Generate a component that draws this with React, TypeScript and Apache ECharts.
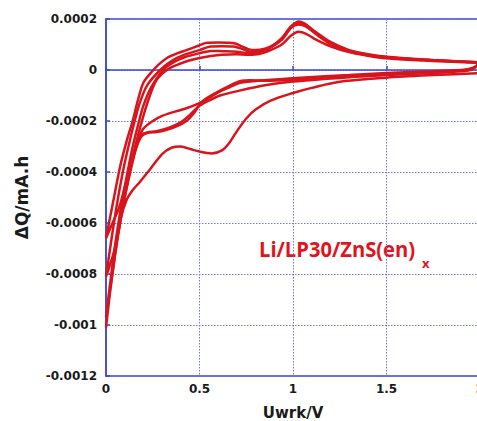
import React, { useEffect, useRef } from "react";
import * as echarts from "echarts";

// Voltage (V) / differential capacity (mA.h) pairs
const cycle1Cathodic: [number, number][] = [
  [2.0, -0.000012], [1.75, -0.00002], [1.5, -0.00003], [1.25, -0.000046], [1.1, -0.00007],
  [1.0, -0.00009], [0.88, -0.00012], [0.8, -0.000155], [0.75, -0.00019], [0.7, -0.00024],
  [0.66, -0.000285], [0.62, -0.000315], [0.565, -0.000327], [0.5, -0.00032], [0.45, -0.00031],
  [0.4, -0.0003], [0.35, -0.000305], [0.3, -0.00033], [0.235, -0.00039], [0.18, -0.00044],
  [0.144, -0.00047], [0.11, -0.00051], [0.08, -0.00058], [0.05, -0.0007], [0.025, -0.00085],
  [0.0, -0.00101],
];
const cycle1Anodic: [number, number][] = [
  [0.0, -0.00101], [0.02, -0.00088], [0.05, -0.00072], [0.08, -0.00058], [0.11, -0.00046],
  [0.14, -0.00035], [0.17, -0.00026], [0.2, -0.00018], [0.23, -0.00011], [0.27, -0.00004],
  [0.325, 0.0], [0.38, 0.00002], [0.44, 0.000036], [0.5, 0.000047], [0.56, 0.000055],
  [0.62, 0.00006], [0.7, 0.000062], [0.76, 0.00006], [0.82, 0.000063], [0.88, 0.000078],
  [0.94, 0.0001], [0.99, 0.000135], [1.03, 0.00015], [1.07, 0.000142], [1.12, 0.00012],
  [1.2, 0.000093], [1.3, 0.00007], [1.4, 0.000056], [1.5, 0.000046], [1.7, 0.000037],
  [1.85, 0.000032], [2.0, 0.000028],
];
const cycle2Cathodic: [number, number][] = [
  [2.0, 0.000027], [1.96, 0.000008], [1.9, 0.0], [1.7, -0.000006], [1.5, -0.000012],
  [1.3, -0.00002], [1.0, -0.000032], [0.85, -0.00004], [0.77, -0.000045], [0.717, -0.00005],
  [0.66, -0.000068], [0.6, -0.000088], [0.55, -0.00011], [0.5, -0.00013], [0.43, -0.00015],
  [0.35, -0.000167], [0.3, -0.00018], [0.25, -0.0002], [0.2, -0.00023], [0.18, -0.00026],
  [0.15, -0.00033], [0.12, -0.00042], [0.09, -0.00053], [0.06, -0.00066], [0.03, -0.00082],
  [0.0, -0.00097],
];
const cycle2Anodic: [number, number][] = [
  [0.0, -0.00097], [0.02, -0.00085], [0.05, -0.00068], [0.08, -0.00054], [0.11, -0.00042],
  [0.14, -0.00031], [0.17, -0.00022], [0.2, -0.00014], [0.24, -0.00007], [0.305, 0.0],
  [0.36, 0.00003], [0.42, 0.00005], [0.5, 0.000066], [0.56, 0.000075], [0.62, 0.000074],
  [0.7, 0.000072], [0.76, 0.000066], [0.82, 0.00007], [0.88, 0.000088], [0.94, 0.000118],
  [0.99, 0.000165], [1.03, 0.000178], [1.07, 0.00017], [1.12, 0.000142], [1.2, 0.000103],
  [1.3, 0.000075], [1.4, 0.00006], [1.5, 0.00005], [1.7, 0.00004], [1.85, 0.000034],
  [2.0, 0.00003],
];
const cycle3Cathodic: [number, number][] = [
  [2.0, 0.000027], [1.96, 0.000005], [1.9, -0.000003], [1.7, -0.00001], [1.5, -0.000016],
  [1.3, -0.000024], [1.0, -0.000038], [0.85, -0.000042], [0.77, -0.00004], [0.72, -0.000043],
  [0.66, -0.000062], [0.6, -0.000085], [0.55, -0.000105], [0.52, -0.00012], [0.5, -0.000135],
  [0.47, -0.00017], [0.43, -0.0002], [0.38, -0.00022], [0.32, -0.000235], [0.27, -0.000243],
  [0.22, -0.000247], [0.19, -0.00026], [0.16, -0.00031], [0.13, -0.0004], [0.1, -0.0005],
  [0.07, -0.00062], [0.04, -0.00072], [0.0, -0.00081],
];
const cycle3Anodic: [number, number][] = [
  [0.0, -0.00081], [0.03, -0.00066], [0.06, -0.00052], [0.09, -0.0004], [0.12, -0.0003],
  [0.15, -0.00021], [0.18, -0.00013], [0.22, -0.00006], [0.29, 0.0], [0.35, 0.000035],
  [0.42, 0.00006], [0.5, 0.000078], [0.56, 0.000092], [0.62, 0.000093], [0.68, 0.000092],
  [0.72, 0.000085], [0.77, 0.000072], [0.82, 0.000074], [0.88, 0.00009], [0.94, 0.000125],
  [0.99, 0.000172], [1.03, 0.000185], [1.07, 0.000176], [1.12, 0.00015], [1.2, 0.00011],
  [1.3, 0.000078], [1.4, 0.000062], [1.5, 0.000052], [1.7, 0.000041], [1.85, 0.000035],
  [2.0, 0.00003],
];
const cycle4Cathodic: [number, number][] = [
  [2.0, 0.000027], [1.96, 0.000004], [1.9, -0.000005], [1.7, -0.000013], [1.5, -0.00002],
  [1.3, -0.000028], [1.0, -0.000045], [0.85, -0.00006], [0.72, -0.00008], [0.61, -0.0001],
  [0.55, -0.00012], [0.5, -0.00014], [0.45, -0.000175], [0.4, -0.000205], [0.33, -0.000228],
  [0.27, -0.00024], [0.22, -0.000245], [0.19, -0.000255], [0.16, -0.0003], [0.13, -0.00038],
  [0.1, -0.00046], [0.07, -0.00054], [0.035, -0.0006], [0.0, -0.00066],
];
const cycle4Anodic: [number, number][] = [
  [0.0, -0.00066], [0.04, -0.00051], [0.075, -0.00038], [0.11, -0.00028], [0.144, -0.000196],
  [0.17, -0.00012], [0.2, -0.00005], [0.245, -0.000007], [0.28, 0.00002], [0.326, 0.000047],
  [0.38, 0.000065], [0.43, 0.000078], [0.49, 0.000094], [0.54, 0.000107], [0.6, 0.000108],
  [0.65, 0.000107], [0.69, 0.000104], [0.72, 0.000095], [0.76, 0.000082], [0.8, 0.000078],
  [0.85, 0.000084], [0.9, 0.0001], [0.95, 0.00013], [0.99, 0.000168], [1.03, 0.00019],
  [1.06, 0.000183], [1.1, 0.00016], [1.15, 0.00013], [1.2, 0.000103], [1.3, 0.000072],
  [1.4, 0.000058], [1.5, 0.00005], [1.7, 0.00004], [1.85, 0.000035], [2.0, 0.00003],
];

const cycles: [number, number][][] = [
  [...cycle1Cathodic, ...cycle1Anodic],
  [...cycle2Cathodic, ...cycle2Anodic],
  [...cycle3Cathodic, ...cycle3Anodic],
  [...cycle4Cathodic, ...cycle4Anodic],
];

const xTicks = { min: 0, max: 2, interval: 0.5 };
const yTicks = { min: -0.0012, max: 0.0002, interval: 0.0002 };
const xName = "Uwrk/V";
const yName = "ΔQ/mA.h";
const labelMain = "Li/LP30/ZnS(en)";
const labelSub = "x";

const BLUE = "#3a48d0";
const GRIDBLUE = "#6a76e0";
const RED = "#d8141c";
const FONT = "'DejaVu Sans', Verdana, sans-serif";

export default function App() {
  const ref = useRef<HTMLDivElement>(null);
  useEffect(() => {
    if (!ref.current) return;
    const chart = echarts.init(ref.current, undefined, { renderer: "svg" });
    const axisLabel = {
      color: "#1a1a1a",
      fontSize: 12,
      fontWeight: "bold" as const,
      fontFamily: FONT,
    };
    chart.setOption({
      animation: false,
      backgroundColor: "#ffffff",
      grid: {
        left: 106,
        top: 19,
        right: 1,
        bottom: 45,
        containLabel: false,
        outerBoundsMode: "none",
        show: true,
        borderColor: BLUE,
        borderWidth: 1.5,
        backgroundColor: "transparent",
      },
      xAxis: {
        type: "value",
        min: xTicks.min,
        max: xTicks.max,
        interval: xTicks.interval,
        name: xName,
        nameLocation: "middle",
        nameGap: 29,
        nameTextStyle: {
          color: "#1a1a1a",
          fontSize: 15,
          fontWeight: "bold",
          fontFamily: FONT,
        },
        axisLine: { show: true, lineStyle: { color: BLUE, width: 1.5 } },
        axisTick: { show: true, inside: true, length: 4, lineStyle: { color: BLUE, width: 1.5 } },
        axisLabel: { ...axisLabel, margin: 7, formatter: (v: number) => String(+v.toFixed(2)) },
        splitLine: { show: true, lineStyle: { color: GRIDBLUE, type: [1.5, 1.5], width: 1 } },
      },
      yAxis: {
        type: "value",
        min: yTicks.min,
        max: yTicks.max,
        interval: yTicks.interval,
        name: yName,
        nameLocation: "middle",
        nameGap: 76,
        nameRotate: 90,
        nameTextStyle: {
          color: "#1a1a1a",
          fontSize: 17,
          fontWeight: "bold",
          fontFamily: FONT,
        },
        axisLine: { show: true, lineStyle: { color: BLUE, width: 1.5 } },
        axisTick: { show: true, inside: true, length: 4, lineStyle: { color: BLUE, width: 1.5 } },
        axisLabel: { ...axisLabel, margin: 9, formatter: (v: number) => String(+v.toFixed(4)) },
        splitLine: { show: true, lineStyle: { color: GRIDBLUE, type: [1.5, 1.5], width: 1 } },
      },
      series: cycles.map((d, i) => ({
        type: "line",
        name: "cycle " + (i + 1),
        data: d,
        showSymbol: false,
        smooth: 0.3,
        clip: true,
        lineStyle: { color: RED, width: 2.5 },
        itemStyle: { color: RED },
        z: 3,
      })),
      graphic: [
        {
          type: "text",
          x: 259,
          y: 238,
          scaleX: 0.96,
          style: {
            text: labelMain,
            fill: "#e3121b",
            font: "bold 21px 'Open Sans', sans-serif",
            align: "left",
            verticalAlign: "top",
          },
        },
        {
          type: "text",
          x: 422,
          y: 256,
          style: {
            text: labelSub,
            fill: "#e3121b",
            font: "bold 13px 'Open Sans', sans-serif",
            align: "left",
            verticalAlign: "top",
          },
        },
      ],
    });
    return () => chart.dispose();
  }, []);
  return (
    <div style={{ position: "fixed", left: 0, top: 0, width: 477, height: 421, overflow: "hidden", background: "#fff" }}>
      <div ref={ref} style={{ width: 481, height: 421 }} />
    </div>
  );
}
